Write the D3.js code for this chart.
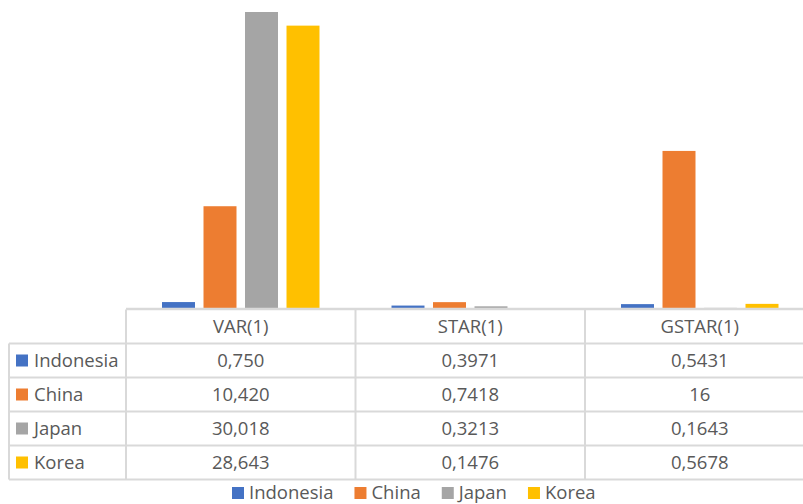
<!DOCTYPE html>
<html>
<head>
<meta charset="utf-8">
<script src="https://cdn.jsdelivr.net/npm/d3@7"></script>
<style>
  html, body { margin: 0; padding: 0; background: #fff; }
  svg { display: block; font-family: "Open Sans", "Noto Sans", sans-serif; }
</style>
</head>
<body>
<svg id="chart" width="803" height="504"></svg>
<script>
// Model categories shown along the table header
const categories = ["VAR(1)", "STAR(1)", "GSTAR(1)"];
// Countries (one bar series each)
const seriesNames = ["Indonesia", "China", "Japan", "Korea"];
const colors = ["#4472C4", "#ED7D31", "#A5A5A5", "#FFC000"];

// Values per country, one per model
const indonesia = [0.750, 0.3971, 0.5431];
const china     = [10.420, 0.7418, 16];
const japan     = [30.018, 0.3213, 0.1643];
const korea     = [28.643, 0.1476, 0.5678];
// Decimal places used in the data table for each model column
const decimals  = [3, 4, 4];

const seriesValues = [indonesia, china, japan, korea];

const svg = d3.select("#chart");
const textColor = "#595959";
const gridColor = "#D9D9D9";
const fontSize = 18.5;

const baseY = 309.5;
const topY = 12;
const tableLeft = 9;
const tableX0 = 126;
const colW = 229.5;
const rowH = 34;

const locale = d3.formatLocale({ decimal: ",", thousands: ".", grouping: [3], currency: ["", ""] });
const fmt = (v, i) => Number.isInteger(v) ? String(v) : locale.format("." + decimals[i] + "f")(v);

const x0 = d3.scaleBand()
  .domain(categories)
  .range([tableX0, tableX0 + colW * categories.length]);

const x1 = d3.scaleBand()
  .domain(seriesNames)
  .range([0, x0.bandwidth()])
  .paddingInner(0.205)
  .paddingOuter(0.8675);

const y = d3.scaleLinear()
  .domain([0, d3.max(japan)])
  .range([baseY, topY]);

// Bars
const groups = svg.append("g").selectAll("g")
  .data(categories)
  .join("g")
  .attr("transform", d => `translate(${x0(d)},0)`);

groups.selectAll("rect")
  .data((c, ci) => seriesNames.map((s, si) => ({ s, si, v: seriesValues[si][ci] })))
  .join("rect")
  .attr("x", d => x1(d.s))
  .attr("width", x1.bandwidth())
  .attr("y", d => y(d.v))
  .attr("height", d => y(0) - y(d.v))
  .attr("fill", d => colors[d.si]);

// Data table grid
const table = svg.append("g");
const tableRight = tableX0 + colW * categories.length;
const nRows = seriesNames.length;

// header top line (also the category baseline)
table.append("line")
  .attr("x1", tableX0).attr("x2", tableRight)
  .attr("y1", baseY - 0.5).attr("y2", baseY - 0.5)
  .attr("stroke", gridColor).attr("stroke-width", 2.5);

// row lines
d3.range(1, nRows + 2).forEach(r => {
  table.append("line")
    .attr("x1", tableLeft).attr("x2", tableRight)
    .attr("y1", baseY + r * rowH).attr("y2", baseY + r * rowH)
    .attr("stroke", gridColor).attr("stroke-width", 2);
});

// vertical lines
table.append("line")
  .attr("x1", tableLeft).attr("x2", tableLeft)
  .attr("y1", baseY + rowH).attr("y2", baseY + (nRows + 1) * rowH)
  .attr("stroke", gridColor).attr("stroke-width", 2);
d3.range(categories.length + 1).forEach(c => {
  const xx = tableX0 + c * colW;
  table.append("line")
    .attr("x1", xx).attr("x2", xx)
    .attr("y1", baseY).attr("y2", baseY + (nRows + 1) * rowH)
    .attr("stroke", gridColor).attr("stroke-width", 2);
});

// header labels
table.selectAll("text.head")
  .data(categories)
  .join("text")
  .attr("class", "head")
  .attr("x", d => x0(d) + colW / 2)
  .attr("y", baseY + rowH / 2)
  .attr("dy", "0.35em")
  .attr("text-anchor", "middle")
  .attr("fill", textColor)
  .attr("font-size", fontSize)
  .text(d => d);

// row labels with colour keys
seriesNames.forEach((s, si) => {
  const cy = baseY + (si + 1) * rowH + rowH / 2;
  table.append("rect")
    .attr("x", 16).attr("y", cy - 6)
    .attr("width", 12).attr("height", 12)
    .attr("fill", colors[si]);
  table.append("text")
    .attr("x", 34).attr("y", cy)
    .attr("dy", "0.35em")
    .attr("fill", textColor)
    .attr("font-size", fontSize)
    .text(s);
  categories.forEach((c, ci) => {
    table.append("text")
      .attr("x", x0(c) + colW / 2)
      .attr("y", cy)
      .attr("dy", "0.35em")
      .attr("text-anchor", "middle")
      .attr("fill", textColor)
      .attr("font-size", fontSize)
      .text(fmt(seriesValues[si][ci], ci));
  });
});

// Legend
const legend = svg.append("g");
let lx = 0;
const legendGap = 21;
seriesNames.forEach((s, si) => {
  const g = legend.append("g").attr("transform", `translate(${lx},0)`);
  g.append("rect").attr("x", 0).attr("y", -6).attr("width", 12).attr("height", 12).attr("fill", colors[si]);
  const t = g.append("text")
    .attr("x", 17).attr("dy", "0.35em")
    .attr("fill", textColor)
    .attr("font-size", fontSize)
    .text(s);
  lx += 17 + t.node().getComputedTextLength() + legendGap;
});
legend.attr("transform", `translate(${232},493)`);
</script>
</body>
</html>
